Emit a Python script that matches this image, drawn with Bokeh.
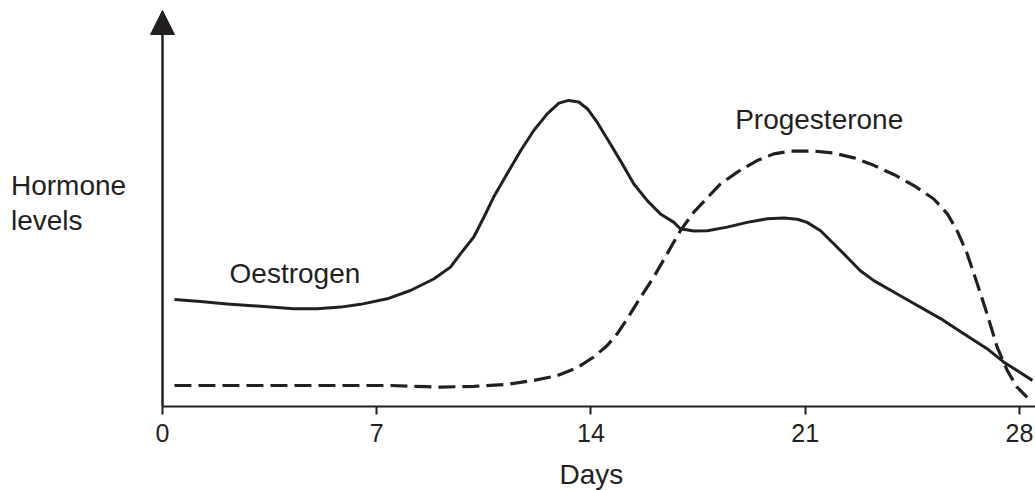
from bokeh.plotting import figure
from bokeh.models import Range1d, FixedTicker, Label, Arrow, NormalHead
from bokeh.embed import file_html
from bokeh.resources import INLINE

# Data (day of cycle, relative hormone level)
days_oestrogen = [0.39, 1.24, 2.11, 3.20, 4.29, 5.05, 5.82, 6.47, 7.34, 8.10, 8.86, 9.41,
                  9.74, 10.17, 10.50, 10.82, 11.26, 11.70, 12.13, 12.57, 12.95, 13.27,
                  13.60, 13.88, 14.20, 14.53, 14.96, 15.40, 15.84, 16.27, 16.71, 16.92,
                  17.36, 17.80, 18.45, 19.10, 19.76, 20.30, 20.74, 21.06, 21.50, 21.93,
                  22.37, 22.80, 23.24, 23.89, 24.55, 25.42, 26.18, 26.94, 27.49, 27.92,
                  28.42]
level_oestrogen = [27.0, 26.5, 25.9, 25.3, 24.7, 24.7, 25.1, 25.8, 27.2, 29.3, 32.2, 35.2,
                   38.6, 42.8, 47.8, 52.9, 58.8, 64.6, 69.7, 73.9, 76.6, 77.3,
                   76.9, 75.2, 71.8, 67.6, 62.1, 56.2, 52.0, 48.6, 46.5, 44.9,
                   44.3, 44.4, 45.3, 46.5, 47.4, 47.6, 47.3, 46.5, 44.4, 41.1,
                   37.7, 34.3, 31.8, 28.9, 26.0, 22.2, 18.4, 14.6, 11.2, 9.1,
                   6.6]

days_progesterone = [0.39, 7.45, 8.65, 9.08, 10.17, 11.26, 12.13, 12.90, 13.55, 14.09,
                     14.53, 14.86, 15.18, 15.62, 16.05, 16.49, 16.92, 17.36, 17.80,
                     18.23, 18.78, 19.43, 19.97, 20.52, 21.28, 21.93, 22.59, 23.24,
                     23.89, 24.55, 25.20, 25.64, 25.96, 26.29, 26.62, 26.94, 27.27,
                     27.60, 27.92, 28.25]
level_progesterone = [5.3, 5.3, 5.0, 4.9, 5.1, 5.6, 6.6, 7.8, 9.8, 12.5,
                      15.4, 18.4, 22.1, 27.6, 32.7, 38.6, 44.4, 49.1, 52.7,
                      56.2, 59.2, 62.1, 63.8, 64.5, 64.5, 64.0, 62.8, 60.9,
                      58.6, 55.8, 52.4, 48.7, 44.4, 38.6, 31.0, 23.4, 15.0,
                      9.1, 4.9, 2.3]

tick_days = [0, 7, 14, 21, 28]

INK = "#231f20"
FONT = "Liberation Sans"

p = figure(width=1035, height=490, output_backend="svg", toolbar_location=None,
           title=None, y_axis_location=None,
           x_range=Range1d(-5.293, 28.523), y_range=Range1d(-21.21, 102.53),
           min_border_left=0, min_border_right=0, min_border_top=0,
           min_border_bottom=0)

p.grid.visible = False
p.outline_line_color = None
p.background_fill_color = "white"
p.border_fill_color = "white"

ax = p.xaxis[0]
ax.fixed_location = 0
ax.ticker = FixedTicker(ticks=tick_days)
ax.bounds = (0, 28.523)
ax.axis_line_width = 2
ax.axis_line_color = INK
ax.major_tick_line_width = 2
ax.major_tick_line_color = INK
ax.major_tick_in = 0
ax.major_tick_out = 8
ax.minor_tick_line_color = None
ax.major_label_text_font = FONT
ax.major_label_text_font_size = "25px"
ax.major_label_text_color = INK
ax.major_label_standoff = 9

# y axis with arrow head
p.add_layout(Arrow(end=NormalHead(size=24, fill_color=INK, line_color=INK, line_width=1),
                   x_start=0, y_start=0, x_end=0, y_end=100,
                   line_width=2.5, line_color=INK))

p.line(days_oestrogen, level_oestrogen, line_width=3, line_color=INK, line_join="round")
p.line(days_progesterone, level_progesterone, line_width=3.2, line_color=INK,
       line_dash="17 7", line_join="round")

def lab(x, y, t, align="left"):
    p.add_layout(Label(x=x, y=y, text=t, text_font=FONT, text_font_size="28px",
                       text_color=INK, text_align=align, text_baseline="alphabetic"))

lab(2.19, 33.6, "Oestrogen")
lab(18.71, 72.5, "Progesterone")
lab(-4.95, 55.8, "Hormone")
lab(-4.95, 47.0, "levels")
lab(14.01, -17.2, "Days", align="center")

open("out.html", "w").write(file_html(p, INLINE))
